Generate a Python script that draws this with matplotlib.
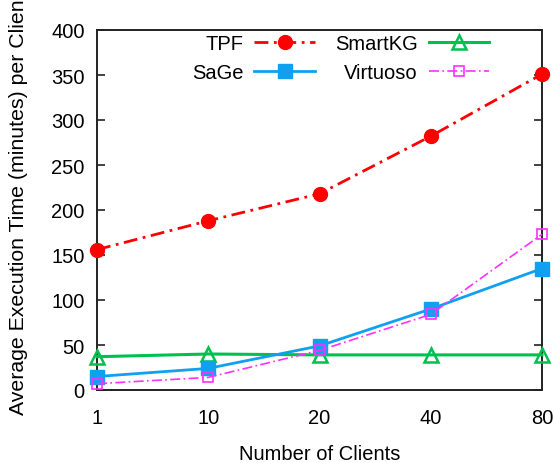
import matplotlib
matplotlib.use("Agg")
import matplotlib.pyplot as plt

plt.rcParams['font.family'] = ['Liberation Sans', 'DejaVu Sans']

clients = ["1", "10", "20", "40", "80"]
tpf = [156, 188, 218, 282, 351]
sage = [15, 24, 49, 90, 135]
smartkg = [37, 40, 39, 39, 39]
virtuoso = [7, 14, 44, 84, 173]
y_ticks = [0, 50, 100, 150, 200, 250, 300, 350, 400]

fig = plt.figure(figsize=(5.55, 4.64), dpi=100)
ax = fig.add_axes([97 / 555, 73 / 464, 445 / 555, 360 / 464])

x = list(range(len(clients)))
ax.plot(x, tpf, color="#ff0000", ls=(0, (5, 2, 1, 2)), lw=2, marker="o", ms=10,
        mfc="#ff0000", mec="#ff0000", label="TPF", clip_on=False, zorder=5)
ax.plot(x, smartkg, color="#00c050", ls="-", lw=2.2, marker="^", ms=10,
        mfc="none", mec="#00c050", mew=1.8, label="SmartKG", clip_on=False, zorder=4)
ax.plot(x, sage, color="#10a0f0", ls="-", lw=2, marker="s", ms=10,
        mfc="#10a0f0", mec="#10a0f0", label="SaGe", clip_on=False, zorder=4)
ax.plot(x, virtuoso, color="#ff30ff", ls=(0, (6, 2, 1, 2)), lw=1.2, marker="s", ms=7,
        mfc="none", mec="#ff30ff", mew=1.2, label="Virtuoso", clip_on=False, zorder=6)

ax.set_xlim(0, len(clients) - 1)
ax.set_ylim(0, 400)
ax.set_xticks(x)
ax.set_xticklabels(clients)
ax.set_yticks(y_ticks)
ax.tick_params(axis="y", direction="in", length=6, width=1.2, right=True,
               labelsize=14.5, pad=9, color="#222222")
ax.tick_params(axis="x", length=0, labelsize=14.5, pad=13)
for s in ax.spines.values():
    s.set_linewidth(1.4)
    s.set_color("#222222")

ax.set_xlabel("Number of Clients", fontsize=14.5, labelpad=12)
fig.text(19 / 555, (464 - 415) / 464, "Average Execution Time (minutes) per Client",
         rotation=90, rotation_mode="anchor", ha="left", va="center", fontsize=15.3)

handles, labels = ax.get_legend_handles_labels()
order = [0, 2, 1, 3]
leg = ax.legend([handles[i] for i in order], [labels[i] for i in order],
                ncol=2, frameon=False, markerfirst=False, fontsize=14.5,
                handlelength=3.0, handletextpad=0.55, columnspacing=1.0,
                labelspacing=0.5, loc="upper left",
                bbox_to_anchor=(0.195, 1.012), borderaxespad=0)
for col in leg._legend_handle_box.get_children():
    col.align = "right"

fig.savefig("out.png", dpi=100)
